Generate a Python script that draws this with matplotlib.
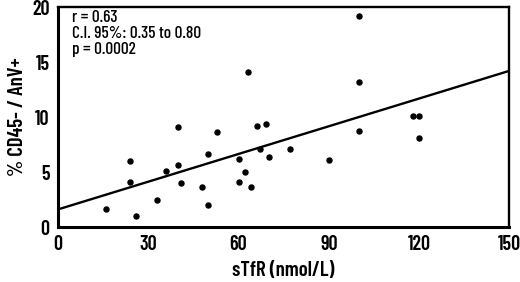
import numpy as np
import matplotlib
matplotlib.use('Agg')
import matplotlib.pyplot as plt

plt.rcParams['font.family'] = ['Barlow Condensed', 'DejaVu Sans']

# sTfR (nmol/L) vs % CD45- / AnV+
stfr = [16, 24, 24, 26, 33, 36, 40, 40, 41, 48, 50, 50, 53, 60, 60, 62, 63, 64,
        66, 67, 69, 70, 77, 90, 100, 100, 100, 118, 120, 120]
cd45 = [1.6, 6.0, 4.1, 1.0, 2.5, 5.1, 5.6, 9.1, 4.0, 3.6, 2.0, 6.6, 8.6, 6.2, 4.1, 5.0, 14.1, 3.6,
        9.2, 7.1, 9.4, 6.4, 7.1, 6.1, 19.2, 13.2, 8.7, 10.1, 10.1, 8.1]

# regression line
intercept = 1.6
slope = 0.084

stats_text = ['r = 0.63', 'C.I. 95%: 0.35 to 0.80', 'p = 0.0002']

xticks = [0, 30, 60, 90, 120, 150]
yticks = [0, 5, 10, 15, 20]

fig = plt.figure(figsize=(5.2, 2.82), dpi=100)
ax = fig.add_axes([0.1115, 0.195, 0.868, 0.78])

ax.scatter(stfr, cd45, s=13, c='black', zorder=3)
xl = np.array([0, 150])
ax.plot(xl, intercept + slope * xl, color='black', lw=1.7)

ax.set_xlim(0, 150)
ax.set_ylim(0, 20)
ax.set_xticks(xticks)
ax.set_yticks(yticks)
ax.tick_params(length=0, labelsize=14.5, pad=6)
for lab in ax.get_xticklabels() + ax.get_yticklabels():
    lab.set_fontweight('semibold')
for s in ['left', 'bottom']:
    ax.spines[s].set_linewidth(2.2)
for s in ['top', 'right']:
    ax.spines[s].set_linewidth(1.7)

ax.set_xlabel('sTfR (nmol/L)', fontsize=15, fontweight='semibold', labelpad=5)
ax.set_ylabel('% CD45- / AnV+', fontsize=15, fontweight='semibold', labelpad=4)

ax.text(0.03, 0.985, '\n'.join(stats_text), transform=ax.transAxes, va='top', ha='left',
        fontsize=12.5, fontweight='medium', linespacing=1.08)

plt.savefig('out.png', dpi=100)
